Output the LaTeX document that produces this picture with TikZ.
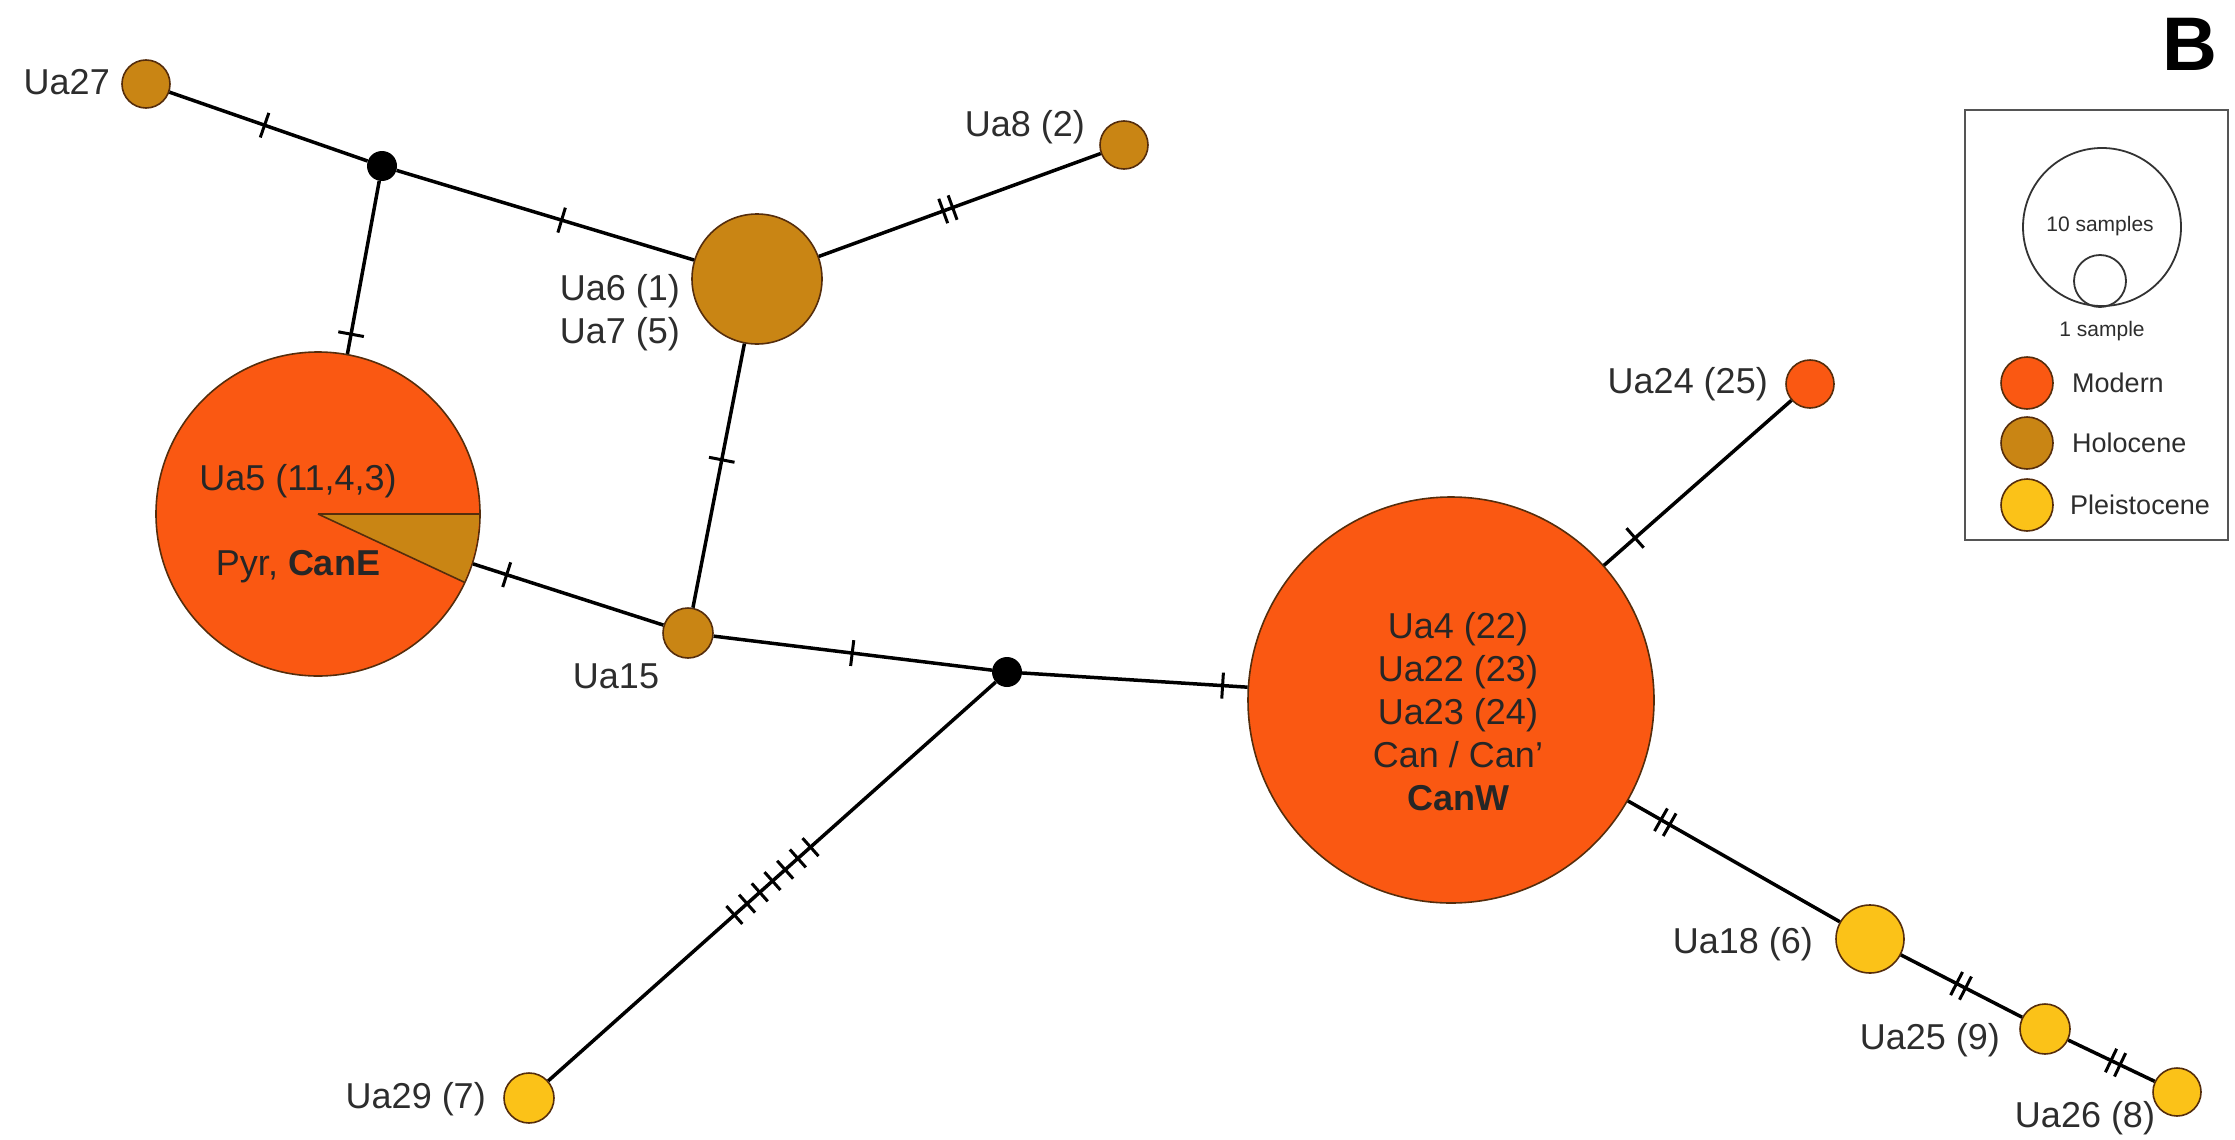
\documentclass[tikz,border=0pt]{standalone}
\usepackage{fontspec}
\setmainfont{Liberation Sans}
\usetikzlibrary{decorations.markings}
\definecolor{modern}{RGB}{250,88,18}
\definecolor{holo}{RGB}{201,133,20}
\definecolor{pleis}{RGB}{251,194,24}
\definecolor{rim}{RGB}{85,45,12}
\definecolor{lbl}{RGB}{45,45,45}
\definecolor{boxgray}{RGB}{85,85,85}
\begin{document}
\begin{tikzpicture}[x=1pt,y=-1pt,
  hap/.style={circle,draw=rim,line width=1.6pt,inner sep=0pt,minimum size=#1},
  knot/.style={circle,fill=black,inner sep=0pt,minimum size=30pt},
  link/.style={line width=3.5pt,black},
  lab/.style={font=\fontsize{36}{43}\selectfont,text=lbl,inner sep=0pt},
  leglab/.style={font=\fontsize{27}{32}\selectfont,text=lbl,inner sep=0pt},
  onetick/.style={postaction={decorate,decoration={markings,mark=at position #1 with {\draw[line width=3pt] (0,-13pt)--(0,13pt);}}}},
  twoticks/.style={postaction={decorate,decoration={markings,mark=at position #1 with {\draw[line width=3pt] (-5pt,-13pt)--(-5pt,13pt) (5pt,-13pt)--(5pt,13pt);}}}},
  seventicks/.style={postaction={decorate,decoration={markings,mark=at position #1 with {\foreach \i in {-3,...,3} {\draw[line width=3pt] ({\i*17pt},-12pt)--({\i*17pt},12pt);}}}}}
]
\useasboundingbox (0,0) rectangle (2235,1140);

% haplotype nodes
\node[hap=48pt,fill=holo]   (ua27) at (146,84) {};
\node[knot]                 (k1)   at (382,166) {};
\node[hap=130pt,fill=holo]  (ua6)  at (757,279) {};
\node[hap=48pt,fill=holo]   (ua8)  at (1124,145) {};
\node[hap=324pt,fill=modern](ua5)  at (318,514) {};
\node[hap=50pt,fill=holo]   (ua15) at (688,633) {};
\node[knot]                 (k2)   at (1007,672) {};
\node[hap=406pt,fill=modern](ua4)  at (1451,700) {};
\node[hap=48pt,fill=modern] (ua24) at (1810,384) {};
\node[hap=68pt,fill=pleis]  (ua18) at (1870,939) {};
\node[hap=50pt,fill=pleis]  (ua25) at (2045,1029) {};
\node[hap=48pt,fill=pleis]  (ua26) at (2177,1092) {};
\node[hap=50pt,fill=pleis]  (ua29) at (529,1098) {};

% pie wedge of Ua5
\fill[holo] (ua5.center) -- ++(161,0) arc[start angle=0,end angle=25,radius=161] -- cycle;
\draw[rim,line width=1.6pt] (ua5.center) -- ++(161.5,0);
\draw[rim,line width=1.6pt] (ua5.center) -- ++(25:161.5);

% connectors
\draw[link,onetick=0.48]  (ua27) -- (k1);
\draw[link,onetick=0.555] (k1) -- (ua6);
\draw[link,onetick=0.886] (k1) -- (ua5);
\draw[link,twoticks=0.458] (ua6) -- (ua8);
\draw[link,onetick=0.44]  (ua6) -- (ua15);
\draw[link,onetick=0.177] (ua5) -- (ua15);
\draw[link,onetick=0.498] (ua15) -- (k2);
\draw[link,onetick=0.889] (k2) -- (ua4);
\draw[link,seventicks=0.499] (k2) -- (ua29);
\draw[link,onetick=0.166] (ua4) -- (ua24);
\draw[link,twoticks=0.176] (ua4) -- (ua18);
\draw[link,twoticks=0.496] (ua18) -- (ua25);
\draw[link,twoticks=0.548] (ua25) -- (ua26);

% labels
\node[lab,anchor=east] (l27) at (110,82) {Ua27};
\node[lab,anchor=east] (l8) at (1085,127) {Ua8 (2)};
\node[lab,anchor=east,align=left] (l6) at (680,313) {Ua6 (1)\\Ua7 (5)};
\node[lab,text=black!85] (l5a) at (298,481) {Ua5 (11,4,3)};
\node[lab,text=black!85] (l5b) at (298,567) {Pyr, \textbf{CanE}};
\node[lab] (l15) at (616,676) {Ua15};
\node[lab,anchor=east] (l29) at (486,1099) {Ua29 (7)};
\node[lab,anchor=east] (l24) at (1768,384) {Ua24 (25)};
\node[lab,anchor=east] (l18) at (1813,944) {Ua18 (6)};
\node[lab,anchor=east] (l25) at (2000,1040) {Ua25 (9)};
\node[lab] (l26) at (2085,1118) {Ua26 (8)};
\node[lab,text=black!85,align=center] (l4) at (1458,712) {Ua4 (22)\\Ua22 (23)\\Ua23 (24)\\Can / Can'\\\textbf{CanW}};

% panel letter
\node[font=\fontsize{76}{80}\selectfont\bfseries,inner sep=0pt] (panel) at (2190,44) {B};

% legend
\draw[boxgray,line width=2.5pt] (1965,110) rectangle (2228,540);
\node[circle,draw=black!80,line width=1.8pt,minimum size=158pt,inner sep=0pt] (big) at (2102,227) {};
\node[circle,draw=black!80,line width=1.8pt,minimum size=52pt,inner sep=0pt] (small) at (2100,281) {};
\node[font=\fontsize{21}{25}\selectfont,text=lbl,inner sep=0pt] (t10) at (2100,226) {10 samples};
\node[font=\fontsize{21}{25}\selectfont,text=lbl,inner sep=0pt] (t1) at (2102,331) {1 sample};
\node[hap=52pt,fill=modern] (lm) at (2027,383) {};
\node[hap=52pt,fill=holo]   (lh) at (2027,443) {};
\node[hap=52pt,fill=pleis]  (lp) at (2027,505) {};
\node[leglab,anchor=west] (tm) at (2072,383) {Modern};
\node[leglab,anchor=west] (th) at (2072,443) {Holocene};
\node[leglab,anchor=west] (tp) at (2070,505) {Pleistocene};
\end{tikzpicture}
\end{document}
